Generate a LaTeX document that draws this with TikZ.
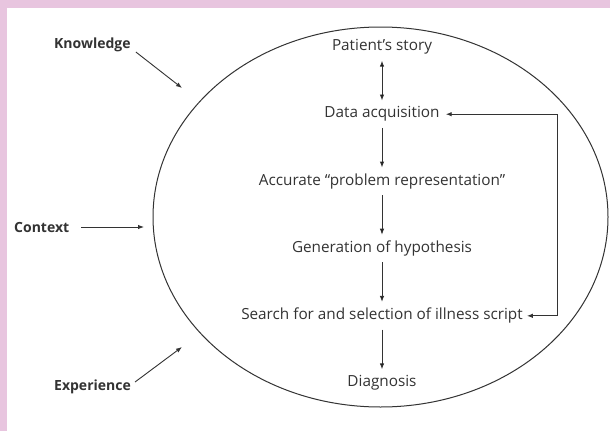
\documentclass[tikz,border=0pt]{standalone}
\usepackage{fontspec}
\setmainfont{Open Sans}
\usepackage{xcolor}
\usetikzlibrary{arrows.meta}

\definecolor{framepink}{HTML}{E8C5DF}
\definecolor{inkgray}{HTML}{333333}

\tikzset{
  step label/.style={text=inkgray, font=\fontsize{15.3}{17}\selectfont, inner sep=2pt},
  side label/.style={text=inkgray, font=\fontsize{14}{16}\selectfont\bfseries, inner sep=1pt},
  flow/.style={-{Latex[length=6pt,width=4.5pt]}, line width=0.9pt, draw=inkgray},
}

\begin{document}
\begin{tikzpicture}[x=1pt, y=-1pt, node distance=67.2pt]
      % frame
      \fill[framepink] (0,0) rectangle (610,431);
      \fill[white] (7,8) rectangle (610,431);
      \useasboundingbox (0,0) rectangle (610,431);

      \draw[inkgray, line width=1pt] (380.5,217) ellipse [x radius=227.5, y radius=190];

      % steps inside the ellipse
      \node[step label, name=story] at (382,47) {Patient’s story};
      \node[step label, name=data, below of=story] {Data acquisition};
      \node[step label, name=repr, below of=data] {Accurate “problem representation”};
      \node[step label, name=hyp, below of=repr] {Generation of hypothesis};
      \node[step label, name=search, below of=hyp] {Search for and selection of illness script};
      \node[step label, name=diag, below of=search] {Diagnosis};

      \path[flow, {Latex[length=6pt,width=4.5pt]}-{Latex[length=6pt,width=4.5pt]}]
         (story) edge[shorten <=4pt, shorten >=4pt] (data);
      \path[flow]
         (data) edge[shorten <=4pt, shorten >=4pt] (repr)
         (repr) edge[shorten <=4pt, shorten >=4pt] (hyp)
         (hyp) edge[shorten <=4pt, shorten >=4pt] (search)
         (search) edge[shorten <=4pt, shorten >=4pt] (diag);

      % feedback loop
      \coordinate (loop) at (557,217);
      \draw[flow] (loop) |- ([xshift=4pt]data.east);
      \draw[flow] (loop) |- ([xshift=2pt]search.east);

      % influences from outside
      \node[side label, name=know, anchor=west] at (53,45) {Knowledge};
      \node[side label, name=ctx, anchor=west] at (13,227) {Context};
      \node[side label, name=exper, anchor=west] at (53,387) {Experience};
      \coordinate (knowtip) at (182,88);
      \coordinate (ctxtip) at (144,227);
      \coordinate (expertip) at (182,347);

      \draw[flow] ([xshift=4pt,yshift=-7pt]know.east) -- (knowtip);
      \draw[flow] ([xshift=11pt]ctx.east) -- (ctxtip);
      \draw[flow] ([xshift=3pt,yshift=5pt]exper.east) -- (expertip);
   \end{tikzpicture}
\end{document}
